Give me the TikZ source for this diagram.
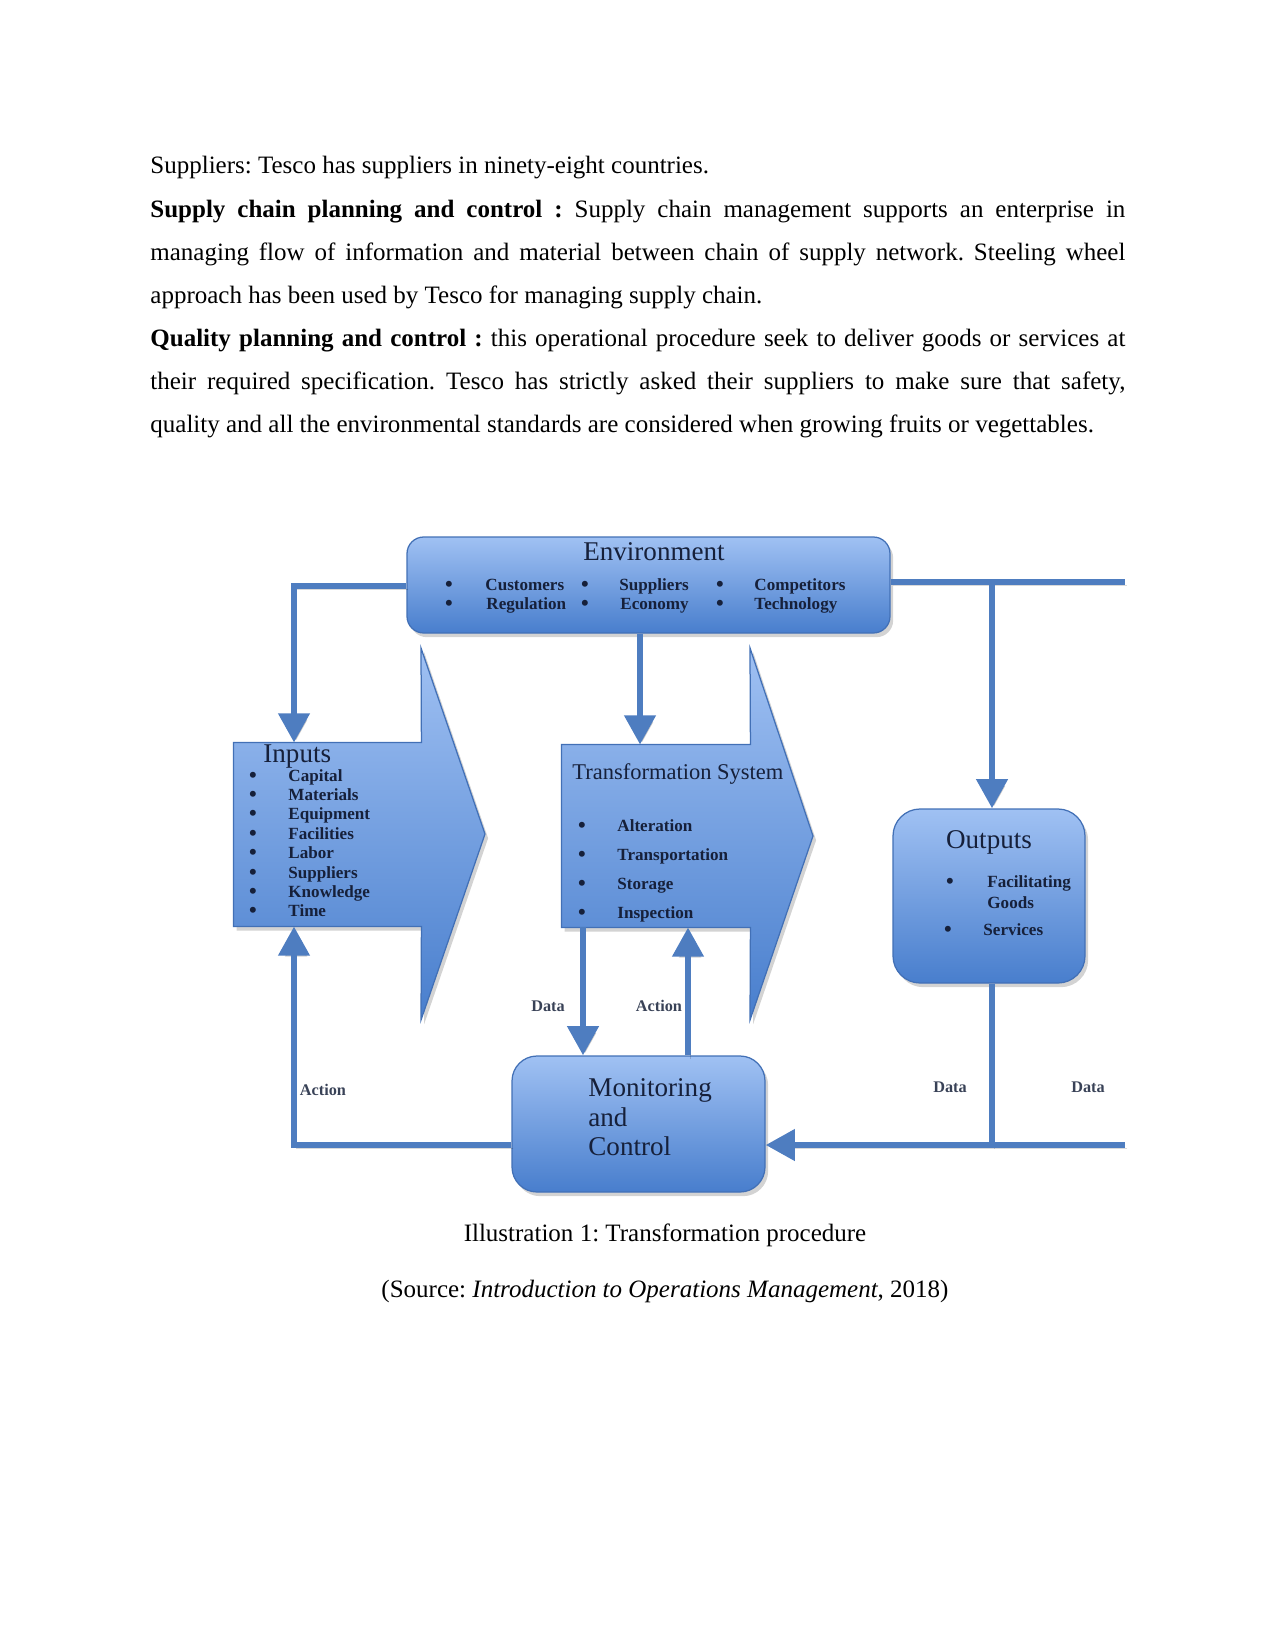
\documentclass[tikz,border=0pt]{standalone}
\usepackage{fontspec}
\setmainfont{Liberation Serif}
\usetikzlibrary{arrows.meta,shadows,fit}
\definecolor{boxtop}{RGB}{160,193,243}
\definecolor{boxbot}{RGB}{72,126,205}
\definecolor{boxedge}{RGB}{66,112,182}
\definecolor{linkblue}{RGB}{78,125,192}
\definecolor{ink}{RGB}{22,32,58}
\tikzset{
  shapefill/.style={top color=boxtop, bottom color=boxbot, draw=boxedge, line width=0.6pt,
    drop shadow={shadow xshift=1.5pt, shadow yshift=-2pt, opacity=0.35}},
  rbox/.style={inner sep=0pt, shapefill, rounded corners=#1},
  area/.style={inner sep=0pt},
  link/.style={draw=linkblue, line width=3.1pt,
    preaction={draw=black, opacity=0.15, transform canvas={shift={(1pt,-1.8pt)}}}},
  conn/.style={link, -{Triangle[width=14.5pt,length=14pt]}},
  title/.style={font=\fontsize{13}{15}\selectfont, text=ink, inner sep=0pt},
  item/.style={font=\bfseries\fontsize{8.2}{10}\selectfont, text=ink, inner sep=0pt, anchor=base west},
  dot/.style={font=\bfseries\fontsize{10.5}{12}\selectfont, text=ink, inner sep=0pt, anchor=base},
  lbl/.style={font=\bfseries\fontsize{7.8}{9}\selectfont, text=ink!85, inner sep=0pt, anchor=base},
  prose/.style={inner sep=0pt, font=\fontsize{12}{14}\selectfont\frenchspacing},
}
\begin{document}
\begin{tikzpicture}[x=0.48pt,y=-0.48pt]
\useasboundingbox (0,0) rectangle (1275,1651);

% ---------- body text ----------
\node[prose, anchor=base west, text width=468pt, align=justify,
      font=\fontsize{12}{20.7}\selectfont\frenchspacing] (body) at (150,174)
{\hyphenpenalty=10000 Suppliers: Tesco has suppliers in ninety-eight countries.\par
\textbf{Supply chain planning and control :} Supply chain management supports an enterprise in\linebreak
managing flow of information and material between chain of supply network. Steeling wheel\linebreak
approach has been used by Tesco for managing supply chain.\par
\textbf{Quality planning and control :} this operational procedure seek to deliver goods or services at\linebreak
their required specification. Tesco has strictly asked their suppliers to make sure that safety,\linebreak
quality and all the environmental standards are considered when growing fruits or vegettables.};

% ---------- shapes ----------
\node[rbox=8pt, fit={(407,537) (890,633)}] (env) {};
\node[area, fit={(234,743) (421,926)}] (inputs) {};
\path[shapefill] (inputs.north west) -- (inputs.north east) -- (421,648) -- (485,834)
  -- (421,1020) -- (inputs.south east) -- (inputs.south west) -- cycle;
\node[area, fit={(562,745) (750,927)}] (trans) {};
\path[shapefill] (trans.north west) -- (trans.north east) -- (750,648) -- (813,836)
  -- (750,1020) -- (trans.south east) -- (trans.south west) -- cycle;
\node[rbox=13pt, fit={(893,809) (1085,983)}] (outputs) {};
\node[rbox=12pt, fit={(512,1056) (765,1192)}] (monitor) {};

% ---------- connectors ----------
\coordinate (cl) at (294,586);
\coordinate (cm) at (640,586);
\coordinate (cr) at (992,582);
\coordinate (er) at (1125,582);
\coordinate (cb) at (992,1145);
\coordinate (br) at (1125,1145);
\coordinate (cd) at (583,0);
\coordinate (ca) at (688,0);

\draw[conn] (env.west |- cl) -| (inputs.north -| cl);
\draw[conn] (env.south -| cm) -- (trans.north -| cm);
\draw[link] (env.east |- cr) -- (er);
\draw[conn] (cr) -- (outputs.north -| cr);
\draw[link] (outputs.south -| cb) -- (cb);
\draw[conn] (br) -- (monitor.east |- cb);
\draw[conn] (monitor.west |- cb) -| (inputs.south -| cl);
\draw[conn] (trans.south -| cd) -- (monitor.north -| cd);
\draw[conn] (monitor.north -| ca) -- (trans.south -| ca);

% ---------- texts ----------
\node[title, anchor=base] (envt) at (654,560) {Environment};
\node[dot] (ed1) at (449,591) {•};
\node[dot] (ed2) at (449,610) {•};
\node[item] (e1) at (485,590) {Customers};
\node[item] (e2) at (486,609) {Regulation};
\node[dot] (ed3) at (585,591) {•};
\node[dot] (ed4) at (585,610) {•};
\node[item] (e3) at (619,590) {Suppliers};
\node[item] (e4) at (620,609) {Economy};
\node[dot] (ed5) at (720,591) {•};
\node[dot] (ed6) at (720,610) {•};
\node[item] (e5) at (754,590) {Competitors};
\node[item] (e6) at (754,609) {Technology};

\node[title, anchor=base west] (inpt) at (263,762) {Inputs};
\foreach \t [count=\i] in {Capital,Materials,Equipment,Facilities,Labor,Suppliers,Knowledge,Time}{
  \node[dot] (id\i) at (253,{782+(\i-1)*19.4}) {•};
  \node[item] (it\i) at (288,{781+(\i-1)*19.4}) {\t};
}

\node[title, anchor=base west, font=\fontsize{10.8}{13}\selectfont] (trt) at (572,779) {Transformation System};
\foreach \t [count=\i] in {Alteration,Transportation,Storage,Inspection}{
  \node[dot] (td\i) at (582,{832+(\i-1)*29.2}) {•};
  \node[item] (tt\i) at (617,{831+(\i-1)*29.2}) {\t};
}

\node[title, anchor=base] (outt) at (989,848) {Outputs};
\node[dot] (od1) at (950,888) {•};
\node[item] (o1) at (987,887) {Facilitating};
\node[item] (o2) at (987,908) {Goods};
\node[dot] (od2) at (948,936) {•};
\node[item] (o3) at (983,935) {Services};

\node[title, anchor=base west] (m1) at (588,1096) {Monitoring};
\node[title, anchor=base west] (m2) at (588,1126) {and};
\node[title, anchor=base west] (m3) at (588,1155) {Control};

\node[lbl] (l1) at (548,1011) {Data};
\node[lbl] (l2) at (659,1011) {Action};
\node[lbl] (l3) at (323,1095) {Action};
\node[lbl] (l4) at (950,1092) {Data};
\node[lbl] (l5) at (1088,1092) {Data};

% ---------- caption ----------
\node[prose, anchor=base] (cap) at (665,1241) {Illustration 1: Transformation procedure};
\node[prose, anchor=base] (src) at (665,1297) {(Source: \textit{Introduction to Operations Management}, 2018)};
\end{tikzpicture}
\end{document}
